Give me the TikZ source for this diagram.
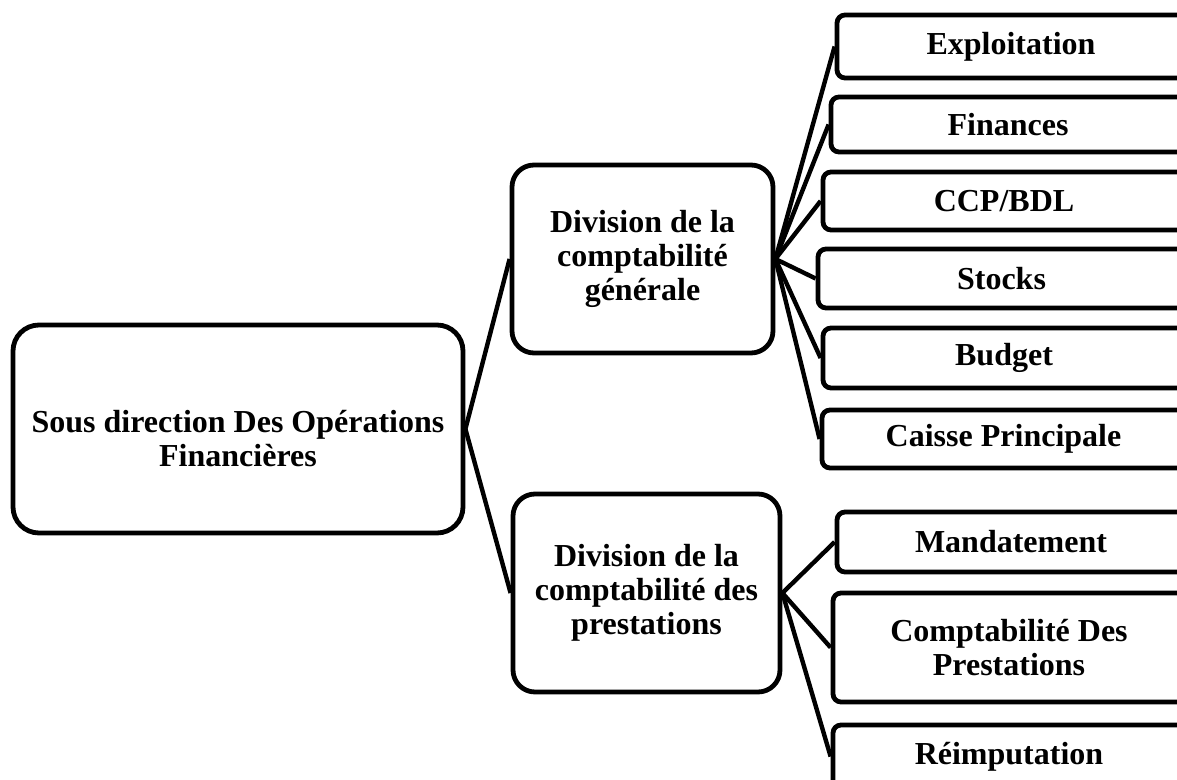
\documentclass[tikz,border=0pt]{standalone}
\usepackage{fontspec}
\setmainfont{Liberation Serif}

\tikzset{
	label text/.style={align=center, inner sep=0pt, font=\fontsize{16}{17}\selectfont\bfseries},
	unit/.style={label text, draw, line width=2.4pt, rounded corners=11pt},
	service/.style={unit, rounded corners=4pt},
	link/.style={line width=2.2pt},
}

\begin{document}
\begin{tikzpicture}[x=0.5pt, y=-0.5pt]
	\useasboundingbox (0,0) rectangle (1177,780);
	% direction and its two divisions
	\node[unit, rounded corners=13pt, minimum width=225pt, minimum height=104pt] (sdof) at (238,429) {};
	\node[label text] (sdoftext) at (238,439) {Sous direction Des Opérations\\Financières};
	\node[unit, minimum width=130.5pt, minimum height=94pt] (gen) at (642.5,259)
		{Division de la\\comptabilité\\générale};
	\node[unit, minimum width=133.5pt, minimum height=99pt] (prest) at (646.5,593)
		{Division de la\\comptabilité des\\prestations};
	% services, cut at the right margin
	\foreach \nm/\l/\t/\b/\txt in {
		expl/837/15/78/Exploitation,
		fin/831/97/152/Finances,
		ccp/823/172/230/{CCP/BDL},
		stock/818/249/308/Stocks,
		budget/823/328/388/Budget,
		caisse/822/410/468/Caisse Principale,
		mand/837/512/572/Mandatement,
		cpt/833/593/702/{Comptabilité Des\\Prestations},
		reimp/833/725/788/Réimputation}
		\node[service, minimum width={(1185-\l)*0.5pt}, minimum height={(\b-\t)*0.5pt}] (\nm)
			at ({(1185+\l)/2},{(\t+\b)/2}) {\txt};
	\draw[link] (sdof.east) -- (gen.west);
	\draw[link] (sdof.east) -- (prest.west);
	\foreach \nm in {expl,fin,ccp,stock,budget,caisse}
		\draw[link] (gen.east) -- (\nm.west);
	\foreach \nm in {mand,cpt,reimp}
		\draw[link] (prest.east) -- (\nm.west);
\end{tikzpicture}
\end{document}
